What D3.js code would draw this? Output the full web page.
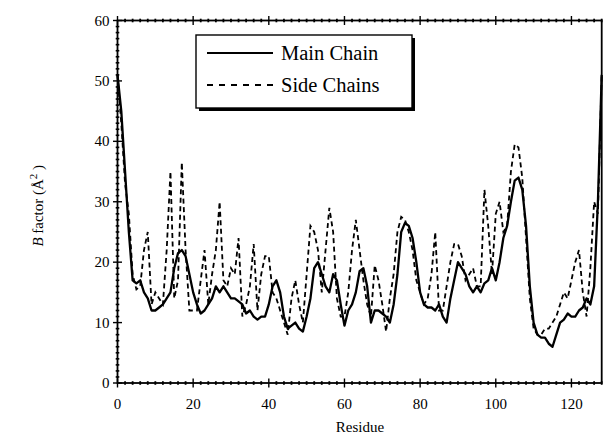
<!DOCTYPE html>
<html>
<head>
<meta charset="utf-8">
<script src="https://cdn.jsdelivr.net/npm/d3@7"></script>
<style>
  body { margin: 0; background: #fff; }
  svg text { font-family: "Liberation Serif", "DejaVu Serif", serif; fill: #000; }
</style>
</head>
<body>
<svg id="viz" width="603" height="440"></svg>
<script>
// residue numbers 0..128
var residues = d3.range(0, 129);

// B factor, main chain
var mainChain = [
  51, 45, 35, 25, 17, 16.5, 17, 15, 14, 12,
  12, 12.5, 13, 14, 15, 19, 21.5, 22, 21, 18,
  15, 13, 11.5, 12, 13, 14, 16, 15, 16, 15,
  14, 14, 13.5, 13, 11.5, 12, 11, 10.5, 11, 11,
  13, 16, 17, 15, 11, 9, 9.5, 10, 9, 8.5,
  11, 14, 19, 20, 18, 16, 15, 18, 17, 13,
  9.5, 12, 13, 15, 18.5, 19, 16, 10, 12, 12,
  11.5, 11, 10, 13, 18, 25, 26.5, 26, 24, 20,
  15, 13, 12.5, 12.5, 12, 13, 11, 10, 14, 17,
  20, 19, 18, 16, 15, 16, 15, 16.5, 17, 19,
  17, 20, 24, 26, 30, 33.5, 34, 32, 26, 16,
  10, 8, 7.5, 7.5, 6.5, 6, 8, 10, 10.5, 11.5,
  11, 11, 12, 12.5, 14, 13, 16, 30, 51
];

// B factor, side chains
var sideChains = [
  51, 43, 33, 28, 18, 15.5, 16, 22, 25, 13,
  15, 14, 13, 22, 35, 14, 17, 36.5, 22, 12,
  12, 12, 17, 22, 13, 18, 22, 30, 17, 16,
  19, 18, 24, 11, 13, 16, 23, 12, 18, 21,
  21, 15, 14, 12, 10, 8, 14, 17, 13, 10,
  18, 26, 25, 22, 15, 22, 29, 25, 14, 11,
  11, 15, 22, 27, 22, 17, 13, 11, 19.5, 17,
  13, 8.5, 14, 18, 25, 27.5, 27, 25, 22, 17,
  15, 13, 14, 18, 25, 12, 12, 16, 20, 23,
  23, 21, 17, 18, 19, 16, 16, 32, 26, 18,
  28, 30, 25, 26, 35, 39.5, 39, 34, 24, 14,
  9, 8, 8, 9, 9, 10, 11, 13, 15, 14,
  17, 20, 22, 15, 11, 19, 30, 28, 51
];

var xTicks = [0, 20, 40, 60, 80, 100, 120];
var yTicks = [0, 10, 20, 30, 40, 50, 60];
var legendLabels = ["Main Chain", "Side Chains"];

var svg = d3.select("#viz");
var plotL = 117.5, plotR = 601.7, plotT = 20.5, plotB = 383;

var x = d3.scaleLinear().domain([0, 128]).range([plotL, plotR]);
var y = d3.scaleLinear().domain([0, 60]).range([plotB, plotT]);

// frame
svg.append("rect")
  .attr("x", plotL).attr("y", plotT)
  .attr("width", plotR - plotL).attr("height", plotB - plotT)
  .attr("fill", "none").attr("stroke", "#000").attr("stroke-width", 1.8);

var tickG = svg.append("g").attr("stroke", "#000");

// minor + major ticks on x (bottom and top), crossing the line
d3.range(0, 129, 2).forEach(function (v) {
  var major = v % 20 == 0;
  var h = major ? 4.5 : 1.8;
  [plotB, plotT].forEach(function (yy) {
    tickG.append("line")
      .attr("x1", x(v)).attr("x2", x(v))
      .attr("y1", yy - h).attr("y2", yy + h)
      .attr("stroke-width", major ? 1.4 : 1.8);
  });
});

// minor + major ticks on y (left)
d3.range(0, 61, 1).forEach(function (v) {
  var major = v % 10 == 0;
  var h = major ? 4.5 : 1.8;
  tickG.append("line")
    .attr("x1", plotL - h).attr("x2", plotL + h)
    .attr("y1", y(v)).attr("y2", y(v))
    .attr("stroke-width", major ? 1.4 : 1.6);
});

// tick labels
svg.append("g").selectAll("text")
  .data(xTicks).enter().append("text")
  .attr("x", function (d) { return x(d); })
  .attr("y", plotB + 26)
  .attr("text-anchor", "middle")
  .style("font-size", "15px")
  .text(function (d) { return d; });

svg.append("g").selectAll("text")
  .data(yTicks).enter().append("text")
  .attr("x", plotL - 8)
  .attr("y", function (d) { return y(d) + 5; })
  .attr("text-anchor", "end")
  .style("font-size", "15px")
  .text(function (d) { return d; });

// axis titles
svg.append("text")
  .attr("x", 360).attr("y", 432)
  .attr("text-anchor", "middle")
  .style("font-size", "15px")
  .text("Residue");

var yTitle = svg.append("text")
  .attr("transform", "translate(43," + ((plotT + plotB) / 2 + 4) + ") rotate(-90)")
  .attr("text-anchor", "middle")
  .style("font-size", "15px");
yTitle.append("tspan").style("font-style", "italic").text("B");
yTitle.append("tspan").text(" factor (Å");
yTitle.append("tspan").attr("dy", -6).style("font-size", "11px").text("2");
yTitle.append("tspan").attr("dy", 6).text(" )");

// curves
var line = d3.line()
  .x(function (d, i) { return x(residues[i]); })
  .y(function (d) { return y(d); });

svg.append("path")
  .datum(sideChains)
  .attr("d", line)
  .attr("fill", "none")
  .attr("stroke", "#000")
  .attr("stroke-width", 1.8)
  .attr("stroke-dasharray", "5,3.5");

svg.append("path")
  .datum(mainChain)
  .attr("d", line)
  .attr("fill", "none")
  .attr("stroke", "#000")
  .attr("stroke-width", 2.3)
  .attr("stroke-linejoin", "round");

// legend with drop shadow
var lg = svg.append("g");
lg.append("rect")
  .attr("x", 199).attr("y", 38).attr("width", 216).attr("height", 73)
  .attr("fill", "#000");
lg.append("rect")
  .attr("x", 196).attr("y", 35).attr("width", 216).attr("height", 73)
  .attr("fill", "#fff").attr("stroke", "#000").attr("stroke-width", 1.4);

legendLabels.forEach(function (lab, i) {
  var yy = 53 + i * 32;
  lg.append("line")
    .attr("x1", 207).attr("x2", 273)
    .attr("y1", yy).attr("y2", yy)
    .attr("stroke", "#000")
    .attr("stroke-width", 1.8)
    .attr("stroke-dasharray", i == 0 ? null : "6,6");
  lg.append("text")
    .attr("x", 281).attr("y", yy + 7)
    .style("font-size", "20.5px")
    .text(lab);
});
</script>
</body>
</html>
